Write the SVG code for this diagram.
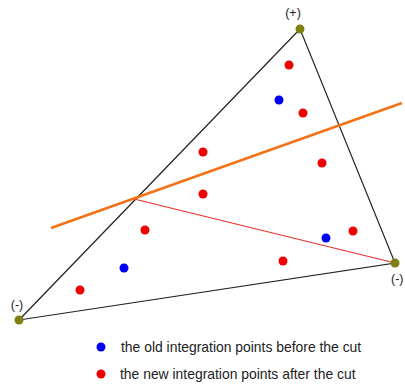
<svg xmlns="http://www.w3.org/2000/svg" width="405" height="385" viewBox="0 0 405 385">
<style>
.edge{stroke:#222;stroke-width:1.2;fill:none}
.cut{stroke:#f47216;stroke-width:2.6;fill:none}
.sub{stroke:#e8322a;stroke-width:1.1;fill:none}
.vtx{fill:#7f7f12}
.new{fill:#f00000}
.old{fill:#0000f0}
text{font-family:"Liberation Sans",Arial,sans-serif;font-size:12.5px;fill:#222}
.leg{font-size:13.9px}
</style>
<rect width="405" height="385" fill="#fff"/>
<g id="connectors">
<path class="edge" d="M300 29 L19 320 L395 263 Z"/>
<line class="sub" x1="134" y1="199" x2="395" y2="263"/>
<line class="cut" x1="51" y1="228" x2="402" y2="103"/>
</g>
<g id="v-top"><circle class="vtx" cx="300" cy="29" r="4.5"/><text x="293" y="17" text-anchor="middle">(+)</text></g>
<g id="v-left"><circle class="vtx" cx="19" cy="320" r="4.5"/><text x="17" y="309" text-anchor="middle">(-)</text></g>
<g id="v-right"><circle class="vtx" cx="395" cy="263" r="4.5"/><text x="391" y="283">(-)</text></g>
<g id="new-points">
<circle class="new" cx="289" cy="65" r="4.5"/>
<circle class="new" cx="303" cy="113" r="4.5"/>
<circle class="new" cx="203" cy="152" r="4.5"/>
<circle class="new" cx="322" cy="163" r="4.5"/>
<circle class="new" cx="203" cy="194" r="4.5"/>
<circle class="new" cx="145" cy="230" r="4.5"/>
<circle class="new" cx="353" cy="231" r="4.5"/>
<circle class="new" cx="283" cy="261" r="4.5"/>
<circle class="new" cx="80" cy="290" r="4.5"/>
</g>
<g id="old-points">
<circle class="old" cx="279" cy="100" r="4.5"/>
<circle class="old" cx="326" cy="238" r="4.5"/>
<circle class="old" cx="124" cy="268" r="4.5"/>
</g>
<g id="legend">
<circle class="old" cx="101" cy="347" r="4.5"/>
<text class="leg" x="121" y="352">the old integration points before the cut</text>
<circle class="new" cx="101" cy="374" r="4.5"/>
<text class="leg" x="120" y="379">the new integration points after the cut</text>
</g>
</svg>
